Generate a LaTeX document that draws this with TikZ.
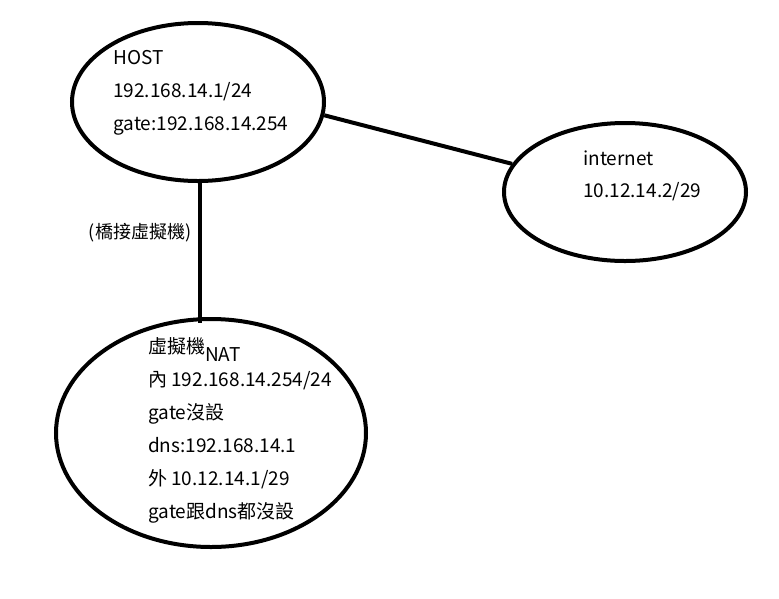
\documentclass[tikz,border=0pt]{standalone}
\usepackage{fontspec}
\setmainfont{Noto Sans CJK TC}
\usetikzlibrary{positioning,shapes.geometric}

\begin{document}
\begin{tikzpicture}[
        x=1pt, y=-1pt,
        every node/.style={font=\fontsize{19}{23}\selectfont},
        site/.style={draw, ellipse, line width=4pt, inner sep=0pt},
        txt/.style={anchor=base west, inner sep=0pt},
        link/.style={line width=4pt}
    ]
        \useasboundingbox (0,0) rectangle (779,598);

        % ellipses
        \node[site, minimum width=252pt, minimum height=158pt] (host) at (198,102) {};
        \node[site, minimum width=242pt, minimum height=138pt] (inet) at (625,192) {};
        \node[site, minimum width=310pt, minimum height=228pt] (nat) at (211,433) {};

        % host text
        \node[txt] (h1) at (113,64) {HOST};
        \node[txt, below=33pt of h1.base west, anchor=base west] (h2) {192.168.14.1/24};
        \node[txt, below=33pt of h2.base west, anchor=base west] (h3) {gate:192.168.14.254};

        % internet text
        \node[txt] (i1) at (583,165) {internet};
        \node[txt, below=32pt of i1.base west, anchor=base west] (i2) {10.12.14.2/29};

        % nat text
        \node[txt] (n0) at (148,353) {虛擬機};
        \node[txt] (n1) at (205,361) {NAT};
        \node[txt] (n2) at (148,386) {內 192.168.14.254/24};
        \node[txt, below=33pt of n2.base west, anchor=base west] (n3) {gate沒設};
        \node[txt, below=33pt of n3.base west, anchor=base west] (n4) {dns:192.168.14.1};
        \node[txt, below=33pt of n4.base west, anchor=base west] (n5) {外 10.12.14.1/29};
        \node[txt, below=33pt of n5.base west, anchor=base west] (n6) {gate跟dns都沒設};

        % links
        \draw[link] (host.-6) -- (inet.166);
        \draw[link] ([xshift=2pt]host.south) -- ([xshift=2pt, yshift=-6pt]host.south |- nat.north);

        \node[font=\fontsize{18}{22}\selectfont] (bridge) at (140,233) {(橋接虛擬機)};
    \end{tikzpicture}
\end{document}
